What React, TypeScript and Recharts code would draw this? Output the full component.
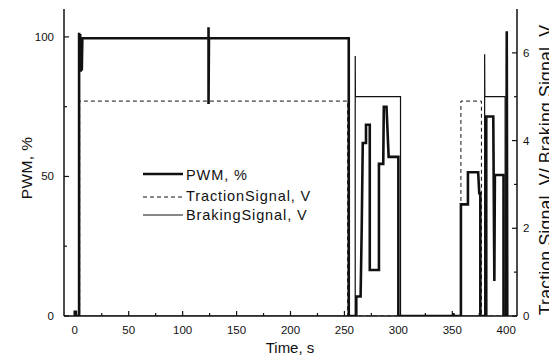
import React from 'react';
import { ComposedChart, Line, XAxis, YAxis, Legend } from 'recharts';

// ---- data ----
// PWM, % (left axis)
const pwmTime = [0, 0, 1, 1, 4, 4, 4.5, 5, 5.5, 6, 6.5, 7, 124, 124, 124, 124.4, 254, 254, 261, 261, 265, 266, 267, 270, 270, 273.5, 273.5, 282, 282, 286, 286.5, 289, 291, 300, 300, 351, 351, 351.5, 358, 358, 364.5, 364.5, 374, 375, 376, 376, 381.5, 381.5, 388, 389, 389.5, 397.5, 397.5, 400, 400.5, 401];
const pwmValue = [0, 1.5, 1.5, 0, 0, 101.5, 88, 101, 87.5, 100, 88, 99.5, 99.5, 103.5, 76, 99.5, 99.5, 0, 0, 7, 7, 31, 62, 62, 68.5, 68.5, 16.5, 16.5, 54.5, 54.5, 75, 75, 57, 57, 0, 0, 1, 0, 0, 40, 40, 51.5, 51.5, 44, 44, 0, 0, 71.5, 71.5, 12.5, 50.5, 50.5, 0, 0, 102, 0];

// Traction signal, V (right axis)
const tractionTime = [0, 4.5, 4.5, 253, 253, 358, 358, 377, 377, 401];
const tractionValue = [0, 0, 4.9, 4.9, 0, 0, 4.9, 4.9, 0, 0];

// Braking signal, V (right axis)
const brakingTime = [0, 260, 260, 260.2, 302, 302, 380, 380, 380.2, 399, 399, 401];
const brakingValue = [0, 0, 5.93, 5, 5, 0, 0, 5.97, 5, 5, 0, 0];

// ticks
const xTicks = [0, 25, 50, 75, 100, 125, 150, 175, 200, 225, 250, 275, 300, 325, 350, 375, 400];
const xLabeled = [0, 50, 100, 150, 200, 250, 300, 350, 400];
const leftTicks = [0, 25, 50, 75, 100];
const leftLabeled = [0, 50, 100];
const rightTicks = [0, 1, 2, 3, 4, 5, 6];
const rightLabeled = [0, 2, 4, 6];

const seriesNames = ['PWM, %', 'TractionSignal, V', 'BrakingSignal, V'];

const pwmData = pwmTime.map((t, i) => ({ t, v: pwmValue[i] }));
const tractionData = tractionTime.map((t, i) => ({ t, v: tractionValue[i] }));
const brakingData = brakingTime.map((t, i) => ({ t, v: brakingValue[i] }));

const FONT = '"Liberation Sans", Arial, Helvetica, sans-serif';
const INK = '#111';
const CHART_W = 549;
const CHART_H = 354;

const styles: Record<string, { w: number; dash?: string }> = {
  'PWM, %': { w: 2.6 },
  'TractionSignal, V': { w: 1, dash: '4 3' },
  'BrakingSignal, V': { w: 1.2 },
};

const LeftTick = (props: any) => {
  const { x, y, payload } = props;
  const x2 = x + 10;
  const major = leftLabeled.includes(payload.value);
  return (
    <g>
      <line x1={x2} y1={y} x2={x2 + (major ? 5 : 3)} y2={y} stroke={INK} strokeWidth={1.2} />
      {major && (
        <text x={x} y={y + 4} textAnchor="end" fontSize={11.5} fontFamily={FONT} fill={INK}>
          {payload.value}
        </text>
      )}
    </g>
  );
};

const RightTick = (props: any) => {
  const { x, y, payload } = props;
  const x2 = x - 6;
  const major = rightLabeled.includes(payload.value);
  return (
    <g>
      <line x1={x2} y1={y} x2={x2 - (major ? 5 : 3)} y2={y} stroke={INK} strokeWidth={1.2} />
      {major && (
        <text x={x} y={y + 4} textAnchor="start" fontSize={11.5} fontFamily={FONT} fill={INK}>
          {payload.value}
        </text>
      )}
    </g>
  );
};

const BottomTick = (props: any) => {
  const { x, y, payload } = props;
  const y2 = y - 8;
  const major = xLabeled.includes(payload.value);
  return (
    <g>
      <line x1={x} y1={y2} x2={x} y2={y2 - (major ? 5 : 3)} stroke={INK} strokeWidth={1.2} />
      {major && (
        <text x={x} y={y2 + 18} textAnchor="middle" fontSize={11.5} fontFamily={FONT} fill={INK}>
          {payload.value}
        </text>
      )}
    </g>
  );
};

const LegendContent = () => {
  const lineY = [6, 29, 47];
  const textY = [12, 33, 52];
  return (
    <svg width={210} height={60} style={{ display: 'block', overflow: 'visible' }}>
      {seriesNames.map((name, i) => (
        <g key={name}>
          <line
            x1={5}
            x2={45}
            y1={lineY[i]}
            y2={lineY[i]}
            stroke={INK}
            strokeWidth={styles[name].w}
            strokeDasharray={styles[name].dash}
          />
          <text x={48} y={textY[i]} fontSize={14.5} letterSpacing={0.9} fontFamily={FONT} fill={INK}>
            {name}
          </text>
        </g>
      ))}
    </svg>
  );
};

const LeftTitle = () => {
  const cx = 24;
  const cy = 160;
  return (
    <text
      x={cx}
      y={cy}
      transform={`rotate(-90 ${cx} ${cy})`}
      textAnchor="middle"
      fontSize={15.5}
      letterSpacing={0.4}
      fontFamily={FONT}
      fill={INK}
    >
      PWM, %
    </text>
  );
};

const RightTitle = () => {
  const cx = CHART_W - 5;
  const cy = 162;
  return (
    <text
      x={cx}
      y={cy}
      transform={`rotate(-90 ${cx} ${cy})`}
      textAnchor="middle"
      fontSize={17.6}
      letterSpacing={0.2}
      fontFamily={FONT}
      fill={INK}
    >
      Traction Signal, V/ Braking Signal, V
    </text>
  );
};

const BottomTitle = () => {
  const cx = 282;
  const cy = CHART_H - 9;
  return (
    <text x={cx} y={cy} textAnchor="middle" fontSize={15} fontFamily={FONT} fill={INK}>
      Time, s
    </text>
  );
};

export default function App() {
  return (
    <div style={{ width: CHART_W, height: CHART_H, background: '#fff' }}>
      <ComposedChart width={CHART_W} height={CHART_H} margin={{ top: 1, right: 0, bottom: 0, left: 0 }}>
        <XAxis
          xAxisId="main"
          type="number"
          dataKey="t"
          domain={[-10, 410]}
          allowDataOverflow
          ticks={xTicks}
          interval={0}
          height={46}
          tickSize={0}
          tickMargin={8}
          tickLine={false}
          tick={<BottomTick />}
          axisLine={{ stroke: INK, strokeWidth: 1.5 }}
          label={{ content: <BottomTitle /> }}
        />
        <XAxis
          xAxisId="top"
          orientation="top"
          type="number"
          dataKey="t"
          domain={[-10, 410]}
          allowDataOverflow
          height={0}
          tick={false}
          tickLine={false}
          axisLine={{ stroke: INK, strokeWidth: 1.5 }}
        />
        <YAxis
          yAxisId="pwm"
          type="number"
          domain={[0, 110]}
          allowDataOverflow
          ticks={leftTicks}
          interval={0}
          width={56}
          tickSize={0}
          tickMargin={10}
          tickLine={false}
          tick={<LeftTick />}
          axisLine={{ stroke: INK, strokeWidth: 1.5 }}
          label={{ content: <LeftTitle /> }}
        />
        <YAxis
          yAxisId="v"
          orientation="right"
          type="number"
          domain={[0, 7]}
          allowDataOverflow
          ticks={rightTicks}
          interval={0}
          width={40}
          tickSize={0}
          tickMargin={6}
          tickLine={false}
          tick={<RightTick />}
          axisLine={{ stroke: INK, strokeWidth: 1.5 }}
          label={{ content: <RightTitle /> }}
        />
        <Legend
          layout="vertical"
          align="center"
          verticalAlign="middle"
          content={<LegendContent />}
          wrapperStyle={{ left: 130, top: 160, width: 210, height: 60 }}
        />
        <Line
          name={seriesNames[1]}
          data={tractionData}
          dataKey="v"
          xAxisId="main"
          yAxisId="v"
          type="linear"
          stroke={INK}
          strokeWidth={styles[seriesNames[1]].w}
          strokeDasharray={styles[seriesNames[1]].dash}
          dot={false}
          activeDot={false}
          isAnimationActive={false}
        />
        <Line
          name={seriesNames[2]}
          data={brakingData}
          dataKey="v"
          xAxisId="main"
          yAxisId="v"
          type="linear"
          stroke={INK}
          strokeWidth={styles[seriesNames[2]].w}
          dot={false}
          activeDot={false}
          isAnimationActive={false}
        />
        <Line
          name={seriesNames[0]}
          data={pwmData}
          dataKey="v"
          xAxisId="main"
          yAxisId="pwm"
          type="linear"
          stroke={INK}
          strokeWidth={styles[seriesNames[0]].w}
          strokeLinejoin="miter"
          dot={false}
          activeDot={false}
          isAnimationActive={false}
        />
      </ComposedChart>
    </div>
  );
}
